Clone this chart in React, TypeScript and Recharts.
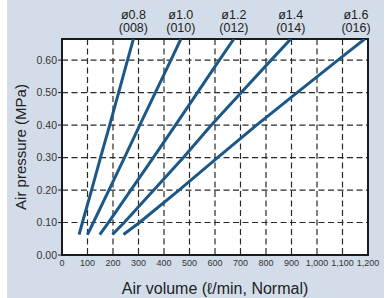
import { LineChart, Line, XAxis, YAxis, CartesianGrid, ReferenceArea } from 'recharts'

// nozzle sizes and model codes
const NOZZLES = ['ø0.8', 'ø1.0', 'ø1.2', 'ø1.4', 'ø1.6']
const CODES = ['(008)', '(010)', '(012)', '(014)', '(016)']

// air pressure (MPa) sampled along each curve
const PRESSURE = [0.063, 0.1, 0.2, 0.3, 0.4, 0.5, 0.6, 0.665]

// air volume (l/min, Normal) at each pressure
const FLOW_08 = [67, 80, 116, 151, 187, 222, 257, 280]
const FLOW_10 = [100, 123, 184, 245, 305, 366, 427, 466]
const FLOW_12 = [148, 182, 270, 358, 445, 531, 617, 674]
const FLOW_14 = [198, 244, 360, 476, 586, 703, 820, 897]
const FLOW_16 = [241, 304, 459, 610, 763, 922, 1082, 1187]

const X_TICKS = [0, 100, 200, 300, 400, 500, 600, 700, 800, 900, 1000, 1100, 1200]
const Y_TICKS = [0, 0.1, 0.2, 0.3, 0.4, 0.5, 0.6]

const FLOWS = [FLOW_08, FLOW_10, FLOW_12, FLOW_14, FLOW_16]

const series = FLOWS.map((flow) => flow.map((q, i) => ({ q, p: PRESSURE[i] })))

const LINE_COLOR = '#1b5888'
const FONT = '"Liberation Sans", Arial, Helvetica, sans-serif'

const nozzleLabel = (idx: number) => (props: any) => {
  const { x, y, index } = props
  if (index !== PRESSURE.length - 1) return null
  const cx = Math.min(x, 356)
  return (
    <g key={`lbl-${idx}`}>
      <text x={cx} y={y - 20} textAnchor="middle" fontSize={12.5} fill="#222" fontFamily={FONT}>
        {NOZZLES[idx]}
      </text>
      <text x={cx} y={y - 7} textAnchor="middle" fontSize={12.5} fill="#222" fontFamily={FONT}>
        {CODES[idx]}
      </text>
    </g>
  )
}

export default function App() {
  return (
    <div style={{ position: 'absolute', left: 0, top: 0, width: 392, height: 298, background: '#fff' }}>
      <div style={{ position: 'absolute', left: 7, top: 0, width: 377, height: 298, background: '#d3dde9' }} />
      <div style={{ position: 'absolute', left: 0, top: 0 }}>
        <LineChart width={392} height={298} margin={{ top: 39, right: 24, bottom: 1, left: 0 }}>
          <CartesianGrid
            stroke="#2a2a2a"
            strokeWidth={1.2}
            strokeDasharray="6 3.5"
            fill="#fff"
            fillOpacity={1}
            horizontalValues={Y_TICKS}
            verticalValues={X_TICKS}
          />
          <XAxis
            dataKey="q"
            type="number"
            domain={[0, 1200]}
            ticks={X_TICKS}
            tickFormatter={(v: number) => v.toLocaleString('en-US')}
            tick={{ fontSize: 9, fill: '#333', fontFamily: FONT }}
            tickLine={false}
            axisLine={false}
            tickSize={4}
            tickMargin={1}
            height={42}
            interval={0}
            allowDataOverflow
            label={{
              value: 'Air volume (ℓ/min, Normal)',
              position: 'insideBottom',
              offset: 3,
              fontSize: 16,
              fill: '#222',
              fontFamily: FONT,
            }}
          />
          <YAxis
            type="number"
            domain={[0, 0.665]}
            ticks={Y_TICKS}
            tickFormatter={(v: number) => v.toFixed(2)}
            tick={{ fontSize: 10.5, fill: '#333', fontFamily: FONT }}
            tickLine={{ stroke: '#222' }}
            axisLine={false}
            tickSize={4}
            tickMargin={1}
            width={62}
            interval={0}
            allowDataOverflow
            label={{
              value: 'Air pressure (MPa)',
              angle: -90,
              position: 'insideLeft',
              offset: 21,
              fontSize: 15,
              fill: '#222',
              fontFamily: FONT,
              style: { textAnchor: 'middle' },
            }}
          />
          {series.map((d, i) => (
            <Line
              key={NOZZLES[i]}
              data={d}
              dataKey="p"
              type="linear"
              stroke={LINE_COLOR}
              strokeWidth={3}
              dot={false}
              label={nozzleLabel(i)}
              isAnimationActive={false}
            />
          ))}
          <ReferenceArea x1={0} x2={1200} y1={0} y2={0.665} fill="none" stroke="#1a1a1a" strokeWidth={2} />
        </LineChart>
      </div>
    </div>
  )
}
